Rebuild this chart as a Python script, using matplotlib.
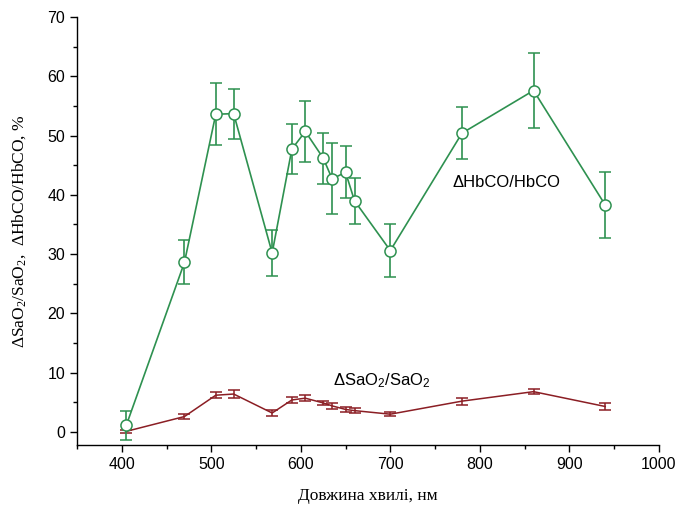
import matplotlib

matplotlib.use("Agg")
import matplotlib.pyplot as plt
from matplotlib.ticker import MultipleLocator

# wavelengths, nm
wavelength = [405, 470, 505, 525, 568, 590, 605, 625, 635, 650, 660, 700, 780, 860, 940]

# dHbCO/HbCO, %
hbco = [1.1, 28.6, 53.6, 53.7, 30.2, 47.7, 50.7, 46.2, 42.7, 43.8, 39.0, 30.6, 50.4, 57.6, 38.3]
hbco_err = [2.5, 3.7, 5.2, 4.2, 3.9, 4.2, 5.1, 4.3, 6.0, 4.4, 3.9, 4.4, 4.4, 6.3, 5.6]

# dSaO2/SaO2, %
sao2 = [0.1, 2.6, 6.2, 6.4, 3.2, 5.4, 5.7, 4.9, 4.4, 3.8, 3.6, 3.0, 5.2, 6.8, 4.3]
sao2_err = [0.3, 0.4, 0.5, 0.6, 0.5, 0.5, 0.5, 0.4, 0.5, 0.4, 0.4, 0.3, 0.6, 0.45, 0.6]

GREEN = "#2e9150"
RED = "#8b1e24"

plt.rcParams["font.family"] = ["Liberation Sans", "DejaVu Sans"]
plt.rcParams["mathtext.default"] = "regular"

fig = plt.figure(figsize=(6.79, 5.08), dpi=100)
ax = fig.add_axes([0.1134, 0.124, 0.857, 0.8425])

ax.errorbar(wavelength, hbco, yerr=hbco_err, color=GREEN, ecolor=GREEN,
            lw=1.2, elinewidth=1.2, capsize=4, capthick=1.2,
            marker="o", ms=8, mfc="white", mec=GREEN, mew=1.1, zorder=3)
ax.errorbar(wavelength, sao2, yerr=sao2_err, color=RED, ecolor=RED,
            lw=1.1, elinewidth=1.1, capsize=4, capthick=1.1, zorder=2)

ax.text(769, 42.1, "ΔHbCO/HbCO", fontsize=12, va="center", ha="left")
ax.text(636, 8.6, "ΔSaO$_2$/SaO$_2$", fontsize=12, va="center", ha="left")

ax.set_xlim(350, 1000)
ax.set_ylim(-2.2, 70)
ax.xaxis.set_major_locator(MultipleLocator(100))
ax.xaxis.set_minor_locator(MultipleLocator(50))
ax.yaxis.set_major_locator(MultipleLocator(10))
ax.yaxis.set_minor_locator(MultipleLocator(5))
ax.tick_params(which="major", direction="out", length=5, width=1, labelsize=11.5)
ax.tick_params(which="minor", direction="out", length=3, width=1)

for side in ["top", "right"]:
    ax.spines[side].set_visible(False)
for side in ["left", "bottom"]:
    ax.spines[side].set_linewidth(1)

ax.set_xlabel("Довжина хвилі, нм", family="Liberation Serif", fontsize=12.5, labelpad=12)
ax.set_ylabel("ΔSaO$_2$/SaO$_2$,  ΔHbCO/HbCO, %", family="Liberation Serif",
              fontsize=12.5, labelpad=14)

fig.savefig("out.png", dpi=100)
